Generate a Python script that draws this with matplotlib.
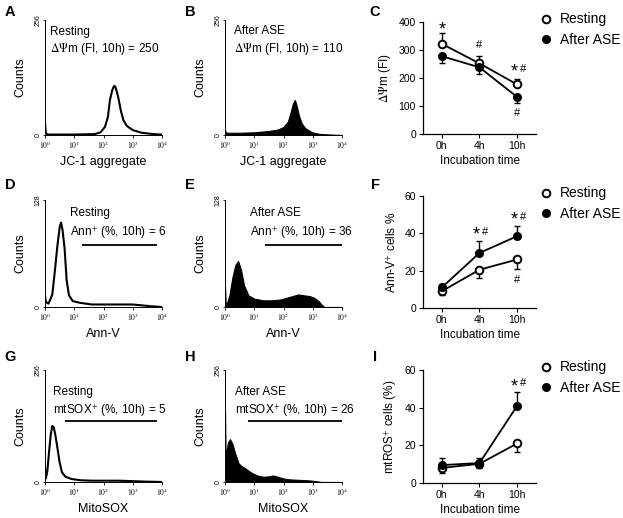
import numpy as np
import matplotlib
matplotlib.use('Agg')
from matplotlib import pyplot as plt

plt.rcParams['font.family'] = ['Liberation Sans', 'DejaVu Sans']
plt.rcParams['mathtext.fontset'] = 'stix'

# flow cytometry histograms, x in log10 units, counts
A_log = [0, 0.03, 0.1, 1.0, 1.7, 1.9, 2.05, 2.15, 2.22, 2.3, 2.36, 2.4, 2.45, 2.51, 2.6, 2.68, 2.8, 3.0, 3.3, 3.7, 4.0]
A_cnt = [28, 4, 1, 1, 2, 6, 18, 40, 78, 100, 109, 108, 98, 82, 52, 33, 20, 11, 5, 2, 1]
B_log = [0, 0.02, 0.1, 0.5, 1.0, 1.5, 1.8, 2.0, 2.15, 2.25, 2.32, 2.39, 2.45, 2.52, 2.62, 2.75, 2.95, 3.1, 3.3, 3.6, 4.0]
B_cnt = [12, 6, 5, 5, 6, 9, 12, 18, 30, 52, 70, 78, 65, 45, 26, 15, 7, 4, 2, 1, 0]
D_log = [0, 0.03, 0.12, 0.25, 0.34, 0.42, 0.5, 0.55, 0.6, 0.67, 0.74, 0.82, 0.95, 1.2, 1.6, 2.0, 2.5, 3.0, 3.3, 3.6, 4.0]
D_cnt = [14, 6, 4, 15, 44, 72, 95, 101, 92, 70, 32, 14, 7, 5, 3, 3, 3, 3, 2, 1, 0]
E_log = [0, 0.02, 0.06, 0.15, 0.25, 0.35, 0.45, 0.55, 0.65, 0.8, 1.0, 1.3, 1.6, 1.9, 2.1, 2.3, 2.5, 2.7, 2.9, 3.05, 3.2, 3.3, 3.4, 4.0]
E_cnt = [24, 5, 4, 14, 35, 50, 55, 44, 26, 14, 10, 8, 8, 9, 11, 13, 15, 14, 13, 11, 7, 3, 0, 0]
G_log = [0, 0.03, 0.08, 0.14, 0.2, 0.25, 0.3, 0.36, 0.42, 0.5, 0.58, 0.7, 0.9, 1.2, 1.6, 2.0, 2.5, 3.0, 3.4, 4.0]
G_cnt = [30, 8, 25, 70, 110, 128, 125, 105, 80, 45, 22, 12, 7, 4, 3, 3, 3, 2, 1, 0]
H_log = [0, 0.02, 0.05, 0.1, 0.17, 0.25, 0.35, 0.46, 0.57, 0.68, 0.8, 0.91, 1.1, 1.3, 1.5, 1.65, 1.8, 2.0, 2.2, 2.5, 2.8, 3.0, 3.2, 3.3, 4.0]
H_cnt = [160, 55, 70, 90, 98, 88, 65, 43, 36, 32, 26, 21, 15, 12, 13, 15, 12, 8, 6, 5, 4, 3, 1, 0, 0]

# line charts
times = ['0h', '4h', '10h']
C_rest = [322, 252, 177]
C_rest_err = [38, 27, 19]
C_ase = [278, 238, 132]
C_ase_err = [25, 25, 21]
F_rest = [9, 20.5, 26]
F_rest_err = [2, 4.5, 5.2]
F_ase = [11, 29.5, 38.5]
F_ase_err = [2, 6.3, 5.5]
I_rest = [8, 10.2, 21]
I_rest_err = [2.7, 2.2, 4.7]
I_ase = [9.5, 10.6, 41]
I_ase_err = [3.6, 2.8, 7.3]

W, H = 623, 518
fig = plt.figure(figsize=(W / 100, H / 100), dpi=100)


def box(left, top, right, bottom):
    return [left / W, 1 - bottom / H, (right - left) / W, (bottom - top) / H]


def hist_panel(rect, logs, cnts, ymax, filled, xlabel, lines, textpos, gate=None):
    ax = fig.add_axes(rect)
    x = 10 ** np.array(logs)
    if filled:
        ax.fill_between(x, 0, cnts, color='black', lw=0.8)
    else:
        ax.plot(x, cnts, color='black', lw=1.5)
    ax.set_xscale('log')
    ax.set_xlim(1, 1e4)
    ax.set_ylim(0, ymax)
    ax.set_yticks([0, ymax])
    ax.set_yticklabels(['0', str(ymax)], rotation=90, va='center', fontsize=5)
    ax.set_xticks([1, 10, 100, 1000, 10000])
    ax.set_xticklabels(['$10^0$', '$10^1$', '$10^2$', '$10^3$', '$10^4$'], fontsize=5.5)
    ax.tick_params(which='major', length=2, width=0.6, pad=1)
    ax.tick_params(which='minor', length=1, width=0.4)
    ax.tick_params(axis='y', length=1.5)
    for s in ['top', 'right']:
        ax.spines[s].set_visible(False)
    ax.spines['left'].set_linewidth(0.7)
    ax.spines['bottom'].set_linewidth(0.7)
    ax.set_ylabel('Counts', fontsize=9, labelpad=6)
    ax.set_xlabel(xlabel, fontsize=9, labelpad=4)
    for (tx, ty), t in zip(textpos, lines):
        ax.text(tx, ty, t, transform=ax.transAxes, fontsize=8.5, va='center', ha='left')
    if gate is not None:
        ax.hlines(gate[2], 10 ** gate[0], 10 ** gate[1], color='black', lw=1.3)
    return ax


def line_panel(rect, rest, rest_err, ase, ase_err, rest_up, ymax, ystep, ylabel, notes):
    ax = fig.add_axes(rect)
    xs = np.arange(len(times))
    z = np.zeros(len(times))
    r_err = [z, rest_err] if rest_up else [rest_err, z]
    a_err = [ase_err, z] if rest_up else [z, ase_err]
    ax.errorbar(xs, rest, yerr=r_err, fmt='none', ecolor='black', elinewidth=1, capsize=2.5, capthick=1, zorder=1)
    ax.errorbar(xs, ase, yerr=a_err, fmt='none', ecolor='black', elinewidth=1, capsize=2.5, capthick=1, zorder=1)
    ax.plot(xs, rest, '-o', color='black', mfc='white', mec='black', mew=1.4, ms=5.5, lw=1.3, label='Resting', zorder=3)
    ax.plot(xs, ase, '-o', color='black', mfc='black', ms=5.5, lw=1.3, label='After ASE', zorder=3)
    ax.set_xlim(-0.5, 2.5)
    ax.set_ylim(0, ymax)
    ax.set_yticks(np.arange(0, ymax + 1, ystep))
    ax.set_xticks(xs)
    ax.set_xticklabels(times)
    ax.tick_params(labelsize=7.5, length=3, width=0.8, pad=2)
    for s in ['top', 'right']:
        ax.spines[s].set_visible(False)
    ax.spines['left'].set_linewidth(0.9)
    ax.spines['bottom'].set_linewidth(0.9)
    ax.set_xlabel('Incubation time', fontsize=8.5, labelpad=3)
    ax.set_ylabel(ylabel, fontsize=8.5, labelpad=4)
    star_dy = -0.03 * ymax
    for t, i, yv in notes:
        if t == '*#':
            ax.text(i - 0.09, yv + star_dy, '*', fontsize=13, ha='center', va='center')
            ax.text(i + 0.16, yv, '#', fontsize=8, ha='center', va='center')
        elif t == '*':
            ax.text(i, yv + star_dy, '*', fontsize=13, ha='center', va='center')
        else:
            ax.text(i, yv, '#', fontsize=8, ha='center', va='center')
    leg = ax.legend(loc='upper left', bbox_to_anchor=(1.09, 1.085), frameon=False, fontsize=10,
                    handlelength=0, handletextpad=1.0, labelspacing=0.45, borderaxespad=0, borderpad=0)
    for h in leg.legend_handles:
        h.set_linestyle('none')
    return ax


hist_panel(box(45, 20, 162, 135), A_log, A_cnt, 256, False, 'JC-1 aggregate',
           ['Resting', r'$\Delta\Psi$m (FI, 10h) = 250'], [(0.045, 0.9), (0.045, 0.745)])
hist_panel(box(225, 20, 342, 135), B_log, B_cnt, 256, True, 'JC-1 aggregate',
           ['After ASE', r'$\Delta\Psi$m (FI, 10h) = 110'], [(0.075, 0.9), (0.075, 0.745)])
hist_panel(box(45, 200, 162, 307), D_log, D_cnt, 128, False, 'Ann-V',
           ['Resting', r'Ann$^{+}$ (%, 10h) = 6'], [(0.215, 0.875), (0.215, 0.69)], gate=(1.26, 3.83, 74))
hist_panel(box(225, 200, 342, 307), E_log, E_cnt, 128, True, 'Ann-V',
           ['After ASE', r'Ann$^{+}$ (%, 10h) = 36'], [(0.215, 0.875), (0.215, 0.69)], gate=(1.37, 4.0, 74))
hist_panel(box(45, 370, 162, 482), G_log, G_cnt, 256, False, 'MitoSOX',
           ['Resting', r'mtSOX$^{+}$ (%, 10h) = 5'], [(0.07, 0.8), (0.07, 0.635)], gate=(0.68, 3.83, 139))
hist_panel(box(225, 370, 342, 482), H_log, H_cnt, 256, True, 'MitoSOX',
           ['After ASE', r'mtSOX$^{+}$ (%, 10h) = 26'], [(0.085, 0.8), (0.085, 0.635)], gate=(0.79, 4.0, 139))

line_panel(box(423, 22, 536, 134), C_rest, C_rest_err, C_ase, C_ase_err, True, 400, 100,
           r'$\Delta\Psi$m (FI)', [('*', 0, 385), ('#', 1, 318), ('*#', 2, 232), ('#', 2, 75)])
line_panel(box(423, 196, 536, 308), F_rest, F_rest_err, F_ase, F_ase_err, False, 60, 20,
           r'Ann-V$^{+}$ cells %', [('*#', 1, 40.7), ('*#', 2, 48.8), ('#', 2, 15)])
line_panel(box(423, 370, 536, 483), I_rest, I_rest_err, I_ase, I_ase_err, False, 60, 20,
           r'mtROS$^{+}$ cells (%)', [('*#', 2, 53)])

# panel letters
for letter, px, py in [('A', 10, 12), ('B', 190, 12), ('C', 375, 12),
                       ('D', 10, 185), ('E', 190, 185), ('F', 375, 185),
                       ('G', 10, 357), ('H', 190, 357), ('I', 375, 357)]:
    fig.text(px / W, 1 - py / H, letter, fontsize=10.5, fontweight='bold', ha='center', va='center')

fig.savefig('out.png', dpi=100)
